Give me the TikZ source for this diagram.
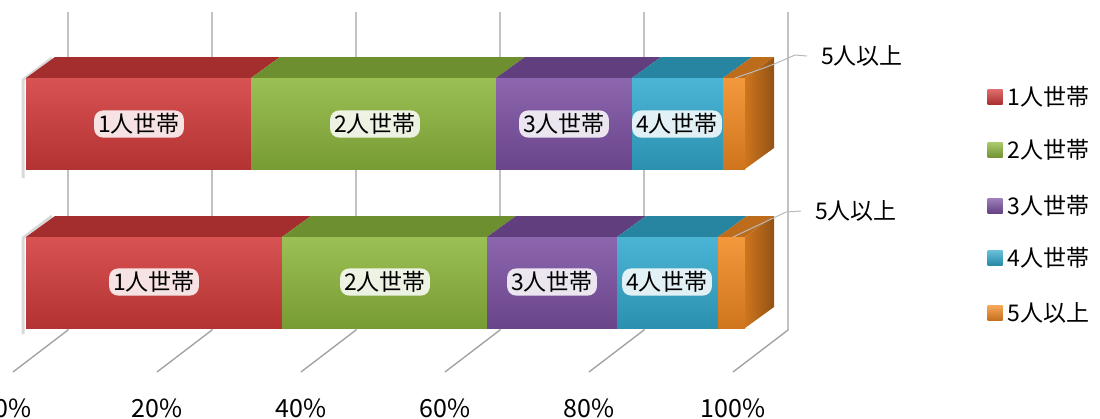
\documentclass[tikz,border=0pt]{standalone}
\usepackage{fontspec}
\setmainfont{Noto Sans CJK JP}
\definecolor{oneP}{HTML}{D33B3B}
\definecolor{twoP}{HTML}{8DB73D}
\definecolor{threeP}{HTML}{7C51A3}
\definecolor{fourP}{HTML}{33AACF}
\definecolor{fiveP}{HTML}{F38A22}
\tikzset{gridline/.style={draw=gray!75, line width=1.3pt},
    leader/.style={draw=gray!55, line width=1pt},
    seglabel/.style={font=\fontsize{23}{26}\selectfont, inner sep=0pt},
    glow/.style={seglabel, fill=white, fill opacity=0.85, text opacity=1,
      rounded corners=9pt, inner xsep=4pt, inner ysep=3pt},
    ticklabel/.style={font=\fontsize{25}{28}\selectfont, inner sep=0pt},
    legendbox/.style={minimum size=15pt, inner sep=0pt}}
% one piece of a bar: left x, right x, front top y, colour
\newcommand{\barpiece}[4]{%
  \fill[#4!78!black] (#1,#3) -- ++(29,-21) -- (#2+29,#3-21) -- (#2,#3) -- cycle;
  \shade[top color=#4!88!white, bottom color=#4!85!black] (#1,#3) rectangle (#2,#3+91);
}

\begin{document}
\begin{tikzpicture}[x=1pt,y=-1pt]
    \useasboundingbox (0,0) rectangle (1100,418);
    % back wall and floor
    \foreach \k/\p in {0/0,1/20,2/40,3/60,4/80,5/100}{
      \draw[gridline] (68+144*\k,12) -- (68+144*\k,330) -- (13+144*\k,372);
      \node[ticklabel] (tick\p) at (13+144*\k,408) {\p\%};
    }
    %
    % shadows at the left end
    \draw[gray!30, line width=3pt] (23,178) -- (23,80) -- (52,58);
    \draw[gray!30, line width=3pt] (23,334) -- (23,238) -- (52,216);
    %
    % upper bar
    \barpiece{26}{251}{78}{oneP}
    \barpiece{251}{496}{78}{twoP}
    \barpiece{496}{632}{78}{threeP}
    \barpiece{632}{723}{78}{fourP}
    \barpiece{723}{745}{78}{fiveP}
    \shade[left color=fiveP!85!black, right color=fiveP!60!black]
      (745,78) -- ++(29,-21) -- ++(0,91) -- ++(-29,21) -- cycle;
    %
    % lower bar
    \barpiece{26}{282}{237}{oneP}
    \barpiece{282}{487}{237}{twoP}
    \barpiece{487}{617}{237}{threeP}
    \barpiece{617}{718}{237}{fourP}
    \barpiece{718}{745}{237}{fiveP}
    \shade[left color=fiveP!85!black, right color=fiveP!60!black]
      (745,237) -- ++(29,-21) -- ++(0,91) -- ++(-29,21) -- cycle;
    %
    % labels in the bars
    \node[glow] (up1) at (139,124) {1人世帯};
    \node[glow] (up2) at (375,124) {2人世帯};
    \node[glow] (up3) at (564,124) {3人世帯};
    \node[glow] (up4) at (677,124) {4人世帯};
    \node[glow] (lo1) at (154,282) {1人世帯};
    \node[glow] (lo2) at (385,282) {2人世帯};
    \node[glow] (lo3) at (552,282) {3人世帯};
    \node[glow] (lo4) at (667,282) {4人世帯};
    %
    % the small piece gets a label outside
    \node[seglabel, anchor=west] (up5) at (821,56) {5人以上};
    \node[seglabel, anchor=west] (lo5) at (815,211) {5人以上};
    \coordinate (up5a) at (735,78);
    \coordinate (lo5a) at (733,237);
    \draw[leader] (up5a) .. controls (770,66) .. (795,55) -- ([xshift=-14pt]up5.west);
    \draw[leader] (lo5a) .. controls (765,222) .. (786,212) -- ([xshift=-14pt]lo5.west);
    %
    % legend
    \foreach \c/\t/\y in {oneP/1人世帯/97, twoP/2人世帯/150, threeP/3人世帯/206,
                          fourP/4人世帯/258, fiveP/5人以上/313}{
      \node[legendbox, top color=\c!75!white, bottom color=\c!80!black] (box\c) at (995,\y) {};
      \node[seglabel, anchor=west] (leg\c) at ([xshift=5pt]box\c.east) {\t};
    }
\end{tikzpicture}
\end{document}
